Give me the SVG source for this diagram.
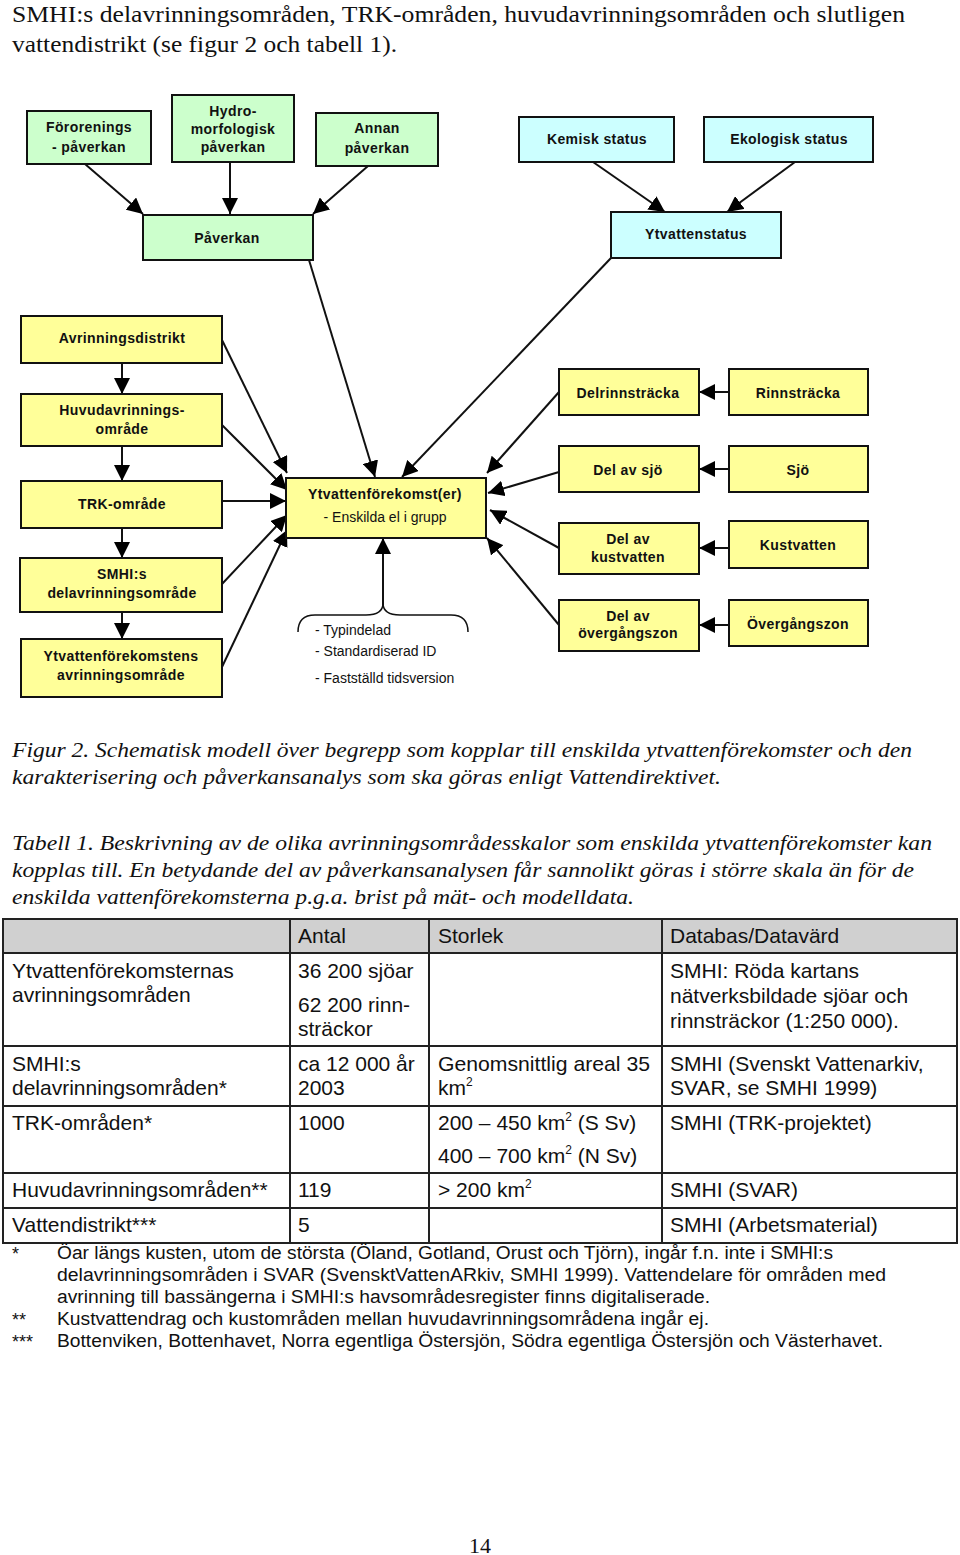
<svg xmlns="http://www.w3.org/2000/svg" width="960" height="1555" viewBox="0 0 960 1555">
<style>
.g{fill:#ccffcc;stroke:#111;stroke-width:2}
.c{fill:#ccffff;stroke:#111;stroke-width:2}
.y{fill:#ffff99;stroke:#111;stroke-width:2}
.b{font-family:"Liberation Sans",Arial,sans-serif;font-size:14px;font-weight:bold;fill:#111;text-anchor:middle;letter-spacing:0.4px}
.n{font-family:"Liberation Sans",Arial,sans-serif;font-size:14px;fill:#111}
.ln{stroke:#111;stroke-width:2;fill:none;marker-end:url(#ah)}
.s{font-family:"Liberation Serif","Times New Roman",serif;font-size:24px;fill:#111}
.i{font-family:"Liberation Serif","Times New Roman",serif;font-size:22px;font-style:italic;fill:#111}
.t{font-family:"Liberation Sans",Arial,sans-serif;font-size:21px;fill:#111}
.f{font-family:"Liberation Sans",Arial,sans-serif;font-size:18px;fill:#111}
.sup{font-size:12px}
.tb{stroke:#222;stroke-width:2;fill:none}
</style>
<defs>
<marker id="ah" viewBox="0 0 16 16" markerWidth="16" markerHeight="16" refX="16" refY="8" orient="auto" markerUnits="userSpaceOnUse">
<path d="M0,0 L16,8 L0,16 z" fill="#000"/>
</marker>
</defs>
<rect width="960" height="1555" fill="#fff"/>

<text class="s" x="12" y="22" textLength="893" lengthAdjust="spacingAndGlyphs">SMHI:s delavrinningsområden, TRK-områden, huvudavrinningsområden och slutligen</text>
<text class="s" x="12" y="52" textLength="385" lengthAdjust="spacingAndGlyphs">vattendistrikt (se figur 2 och tabell 1).</text>

<g id="connectors">
<line class="ln" x1="85" y1="164" x2="143" y2="214"/>
<line class="ln" x1="230" y1="162" x2="230" y2="214"/>
<line class="ln" x1="368" y1="166" x2="313" y2="214"/>
<line class="ln" x1="593" y1="162" x2="665" y2="212"/>
<line class="ln" x1="795" y1="162" x2="727" y2="212"/>
<line class="ln" x1="309" y1="260" x2="375" y2="477"/>
<line class="ln" x1="611" y1="258" x2="402" y2="477"/>
<line class="ln" x1="122" y1="363" x2="122" y2="394"/>
<line class="ln" x1="122" y1="446" x2="122" y2="481"/>
<line class="ln" x1="122" y1="528" x2="122" y2="558"/>
<line class="ln" x1="122" y1="612" x2="122" y2="639"/>
<line class="ln" x1="222" y1="340" x2="287" y2="473"/>
<line class="ln" x1="222" y1="425" x2="287" y2="490"/>
<line class="ln" x1="222" y1="501" x2="286" y2="501"/>
<line class="ln" x1="222" y1="584" x2="287" y2="515"/>
<line class="ln" x1="222" y1="667" x2="287" y2="530"/>
<line class="ln" x1="383" y1="605" x2="383" y2="538"/>
<line class="ln" x1="559" y1="392" x2="487" y2="473"/>
<line class="ln" x1="559" y1="472" x2="488" y2="493"/>
<line class="ln" x1="559" y1="548" x2="490" y2="510"/>
<line class="ln" x1="559" y1="625" x2="487" y2="538"/>
<line class="ln" x1="729" y1="392" x2="699" y2="392"/>
<line class="ln" x1="729" y1="469" x2="699" y2="469"/>
<line class="ln" x1="729" y1="548" x2="699" y2="548"/>
<line class="ln" x1="729" y1="625" x2="699" y2="625"/>
<path d="M298,632 Q298,615 315,615 L366,615 Q383,615 383,603 Q383,615 400,615 L451,615 Q468,615 468,632" fill="none" stroke="#111" stroke-width="1.5"/>
</g>

<g id="n-fororenings"><rect class="g" x="27" y="111" width="124" height="53"/><text class="b" x="89" y="132">Förorenings</text><text class="b" x="89" y="152">- påverkan</text></g>
<g id="n-hydro"><rect class="g" x="172" y="95" width="122" height="67"/><text class="b" x="233" y="116">Hydro-</text><text class="b" x="233" y="134">morfologisk</text><text class="b" x="233" y="152">påverkan</text></g>
<g id="n-annan"><rect class="g" x="316" y="113" width="122" height="53"/><text class="b" x="377" y="133">Annan</text><text class="b" x="377" y="153">påverkan</text></g>
<g id="n-paverkan"><rect class="g" x="143" y="215" width="170" height="45"/><text class="b" x="227" y="243">Påverkan</text></g>
<g id="n-kemisk"><rect class="c" x="519" y="117" width="155" height="45"/><text class="b" x="597" y="144">Kemisk status</text></g>
<g id="n-ekologisk"><rect class="c" x="704" y="117" width="169" height="45"/><text class="b" x="789" y="144">Ekologisk status</text></g>
<g id="n-ytvattenstatus"><rect class="c" x="611" y="212" width="170" height="46"/><text class="b" x="696" y="239">Ytvattenstatus</text></g>

<g id="n-avrdistrikt"><rect class="y" x="21" y="316" width="201" height="47"/><text class="b" x="122" y="343">Avrinningsdistrikt</text></g>
<g id="n-huvud"><rect class="y" x="21" y="394" width="201" height="52"/><text class="b" x="122" y="415">Huvudavrinnings-</text><text class="b" x="122" y="434">område</text></g>
<g id="n-trk"><rect class="y" x="21" y="481" width="201" height="47"/><text class="b" x="122" y="509">TRK-område</text></g>
<g id="n-smhi"><rect class="y" x="20" y="558" width="202" height="54"/><text class="b" x="122" y="579">SMHI:s</text><text class="b" x="122" y="598">delavrinningsområde</text></g>
<g id="n-ytvavr"><rect class="y" x="21" y="639" width="201" height="58"/><text class="b" x="121" y="661">Ytvattenförekomstens</text><text class="b" x="121" y="680">avrinningsområde</text></g>

<g id="n-ytv"><rect class="y" x="286" y="478" width="200" height="60"/><text class="b" x="385" y="499">Ytvattenförekomst(er)</text><text class="n" x="385" y="522" text-anchor="middle">- Enskilda el i grupp</text></g>
<g id="n-props"><text class="n" x="315" y="635">- Typindelad</text><text class="n" x="315" y="656">- Standardiserad ID</text><text class="n" x="315" y="683">- Fastställd tidsversion</text></g>

<g id="n-delrinn"><rect class="y" x="559" y="369" width="140" height="46"/><text class="b" x="628" y="398">Delrinnsträcka</text></g>
<g id="n-rinn"><rect class="y" x="729" y="369" width="139" height="46"/><text class="b" x="798" y="398">Rinnsträcka</text></g>
<g id="n-delsjo"><rect class="y" x="559" y="446" width="140" height="46"/><text class="b" x="628" y="475">Del av sjö</text></g>
<g id="n-sjo"><rect class="y" x="729" y="446" width="139" height="46"/><text class="b" x="798" y="475">Sjö</text></g>
<g id="n-delkust"><rect class="y" x="559" y="523" width="140" height="51"/><text class="b" x="628" y="544">Del av</text><text class="b" x="628" y="562">kustvatten</text></g>
<g id="n-kust"><rect class="y" x="729" y="521" width="139" height="47"/><text class="b" x="798" y="550">Kustvatten</text></g>
<g id="n-delover"><rect class="y" x="559" y="600" width="140" height="51"/><text class="b" x="628" y="621">Del av</text><text class="b" x="628" y="638">övergångszon</text></g>
<g id="n-over"><rect class="y" x="729" y="600" width="139" height="46"/><text class="b" x="798" y="629">Övergångszon</text></g>

<text class="i" x="12" y="757" textLength="900" lengthAdjust="spacingAndGlyphs">Figur 2. Schematisk modell över begrepp som kopplar till enskilda ytvattenförekomster och den</text>
<text class="i" x="12" y="784" textLength="709" lengthAdjust="spacingAndGlyphs">karakterisering och påverkansanalys som ska göras enligt Vattendirektivet.</text>
<text class="i" x="12" y="850" textLength="920" lengthAdjust="spacingAndGlyphs">Tabell 1. Beskrivning av de olika avrinningsområdesskalor som enskilda ytvattenförekomster kan</text>
<text class="i" x="12" y="877" textLength="902" lengthAdjust="spacingAndGlyphs">kopplas till. En betydande del av påverkansanalysen får sannolikt göras i större skala än för de</text>
<text class="i" x="12" y="904" textLength="622" lengthAdjust="spacingAndGlyphs">enskilda vattenförekomsterna p.g.a. brist på mät- och modelldata.</text>

<g id="table">
<rect x="3" y="919" width="954" height="34" fill="#d0d0d0"/>
<rect class="tb" x="3" y="919" width="954" height="324"/>
<line class="tb" x1="3" y1="953" x2="957" y2="953"/>
<line class="tb" x1="3" y1="1046" x2="957" y2="1046"/>
<line class="tb" x1="3" y1="1106" x2="957" y2="1106"/>
<line class="tb" x1="3" y1="1173" x2="957" y2="1173"/>
<line class="tb" x1="3" y1="1208" x2="957" y2="1208"/>
<line class="tb" x1="290" y1="919" x2="290" y2="1243"/>
<line class="tb" x1="429" y1="919" x2="429" y2="1243"/>
<line class="tb" x1="662" y1="919" x2="662" y2="1243"/>
<text class="t" x="298" y="943">Antal</text>
<text class="t" x="438" y="943">Storlek</text>
<text class="t" x="670" y="943">Databas/Datavärd</text>
<text class="t" x="12" y="978">Ytvattenförekomsternas</text>
<text class="t" x="12" y="1002">avrinningsområden</text>
<text class="t" x="298" y="978">36 200 sjöar</text>
<text class="t" x="298" y="1012">62 200 rinn-</text>
<text class="t" x="298" y="1036">sträckor</text>
<text class="t" x="670" y="978">SMHI: Röda kartans</text>
<text class="t" x="670" y="1003">nätverksbildade sjöar och</text>
<text class="t" x="670" y="1028">rinnsträckor (1:250 000).</text>
<text class="t" x="12" y="1071">SMHI:s</text>
<text class="t" x="12" y="1095">delavrinningsområden*</text>
<text class="t" x="298" y="1071">ca 12 000 år</text>
<text class="t" x="298" y="1095">2003</text>
<text class="t" x="438" y="1071" textLength="212" lengthAdjust="spacingAndGlyphs">Genomsnittlig areal 35</text>
<text class="t" x="438" y="1095">km<tspan class="sup" dy="-9">2</tspan></text>
<text class="t" x="670" y="1071">SMHI (Svenskt Vattenarkiv,</text>
<text class="t" x="670" y="1095">SVAR, se SMHI 1999)</text>
<text class="t" x="12" y="1130">TRK-områden*</text>
<text class="t" x="298" y="1130">1000</text>
<text class="t" x="438" y="1130">200 – 450 km<tspan class="sup" dy="-9">2</tspan><tspan dy="9"> (S Sv)</tspan></text>
<text class="t" x="438" y="1163">400 – 700 km<tspan class="sup" dy="-9">2</tspan><tspan dy="9"> (N Sv)</tspan></text>
<text class="t" x="670" y="1130">SMHI (TRK-projektet)</text>
<text class="t" x="12" y="1197">Huvudavrinningsområden**</text>
<text class="t" x="298" y="1197">119</text>
<text class="t" x="438" y="1197">&gt; 200 km<tspan class="sup" dy="-9">2</tspan></text>
<text class="t" x="670" y="1197">SMHI (SVAR)</text>
<text class="t" x="12" y="1232">Vattendistrikt***</text>
<text class="t" x="298" y="1232">5</text>
<text class="t" x="670" y="1232">SMHI (Arbetsmaterial)</text>
</g>

<g id="footnotes">
<text class="f" x="12" y="1260">*</text>
<text class="f" x="57" y="1259" textLength="776" lengthAdjust="spacingAndGlyphs">Öar längs kusten, utom de största (Öland, Gotland, Orust och Tjörn), ingår f.n. inte i SMHI:s</text>
<text class="f" x="57" y="1281" textLength="829" lengthAdjust="spacingAndGlyphs">delavrinningsområden i SVAR (SvensktVattenARkiv, SMHI 1999). Vattendelare för områden med</text>
<text class="f" x="57" y="1303" textLength="653" lengthAdjust="spacingAndGlyphs">avrinning till bassängerna i SMHI:s havsområdesregister finns digitaliserade.</text>
<text class="f" x="12" y="1326">**</text>
<text class="f" x="57" y="1325" textLength="652" lengthAdjust="spacingAndGlyphs">Kustvattendrag och kustområden mellan huvudavrinningsområdena ingår ej.</text>
<text class="f" x="12" y="1348">***</text>
<text class="f" x="57" y="1347" textLength="826" lengthAdjust="spacingAndGlyphs">Bottenviken, Bottenhavet, Norra egentliga Östersjön, Södra egentliga Östersjön och Västerhavet.</text>
</g>

<text class="s" x="480" y="1553" text-anchor="middle" style="font-size:22px">14</text>
</svg>
